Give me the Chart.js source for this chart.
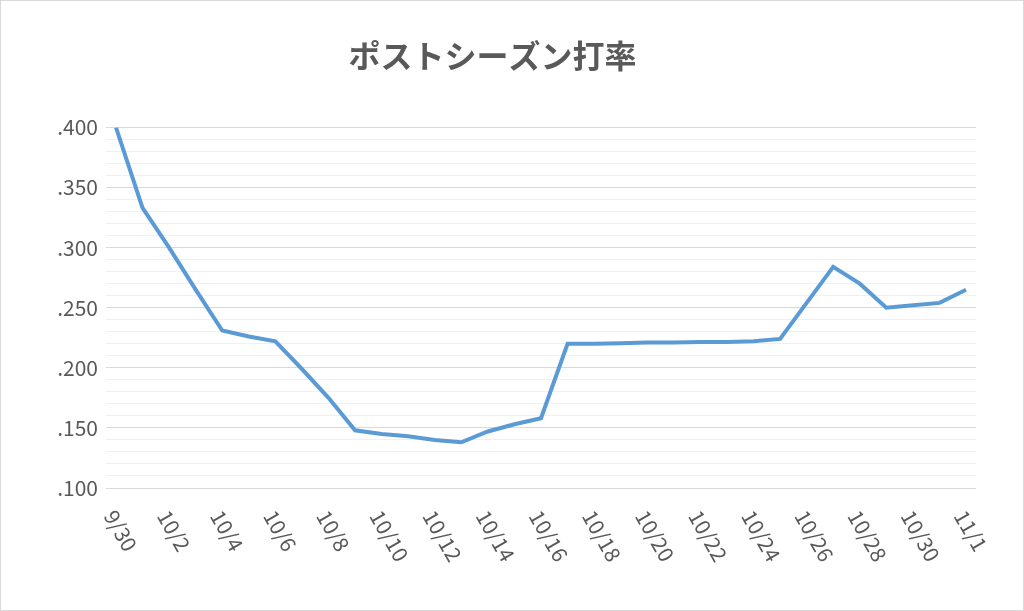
<!DOCTYPE html>
<html><head><meta charset="utf-8">
<script src="https://cdn.jsdelivr.net/npm/chart.js@4"></script>
<style>html,body{margin:0;padding:0;background:#fff}#w{width:1022px;height:609px;border:1px solid #d9d9d9}</style>
</head><body><div id="w"><canvas id="c" width="1022" height="609"></canvas></div>
<script>
const dates=['9/30','10/1','10/2','10/3','10/4','10/5','10/6','10/7','10/8','10/9','10/10','10/11','10/12','10/13','10/14','10/15','10/16','10/17','10/18','10/19','10/20','10/21','10/22','10/23','10/24','10/25','10/26','10/27','10/28','10/29','10/30','10/31','11/1'];
const avg=[.400,.333,.300,.265,.231,.226,.222,.199,.175,.148,.145,.143,.140,.138,.147,.153,.158,.220,.220,.2205,.221,.221,.2215,.2215,.222,.224,.254,.284,.270,.250,.252,.254,.265];
const labelEvery=2;
const pts=avg.map((v,i)=>({x:i,y:v}));
const xLabels={id:'xl',afterDraw(ch){const c=ch.ctx,xs=ch.scales.x,b=ch.chartArea.bottom;c.save();c.fillStyle='#595959';c.font='21px "Noto Sans CJK JP", "Noto Sans"';c.textBaseline='middle';
dates.forEach((d,i)=>{if(i%labelEvery)return;const x=xs.getPixelForValue(i);c.save();c.translate(x-6,b+24);c.rotate(Math.PI/3);c.textAlign='left';c.fillText(d,0,0);c.restore();});c.restore();}};
new Chart(document.getElementById('c'),{type:'line',
data:{datasets:[{data:pts,borderColor:'#5B9BD5',borderWidth:4,pointRadius:0,tension:0,fill:false}]},
options:{responsive:false,animation:false,
layout:{padding:{left:8,right:47,top:0,bottom:114}},
plugins:{legend:{display:false},tooltip:{enabled:false},
title:{display:true,text:'ポストシーズン打率',color:'#595959',font:{family:'"Noto Sans CJK JP"',size:32,weight:'bold'},padding:{top:36,bottom:52}}},
scales:{x:{type:'linear',min:-0.375,max:32.375,grid:{display:false},border:{display:false},ticks:{display:false}},
y:{min:0.1,max:0.4,afterFit(s){s.width=97},border:{display:false},
grid:{color:c=>Math.round(c.tick.value*1000)%50===0?'#d9d9d9':'#f0f0f0',lineWidth:1,drawTicks:false},
ticks:{stepSize:0.01,autoSkip:false,color:'#595959',padding:8,font:{family:'"Noto Sans CJK JP"',size:21},
callback:v=>Math.round(v*1000)%50===0?'.'+String(Math.round(v*1000)).padStart(3,'0'):''}}}},
plugins:[xLabels]});
</script></body></html>
